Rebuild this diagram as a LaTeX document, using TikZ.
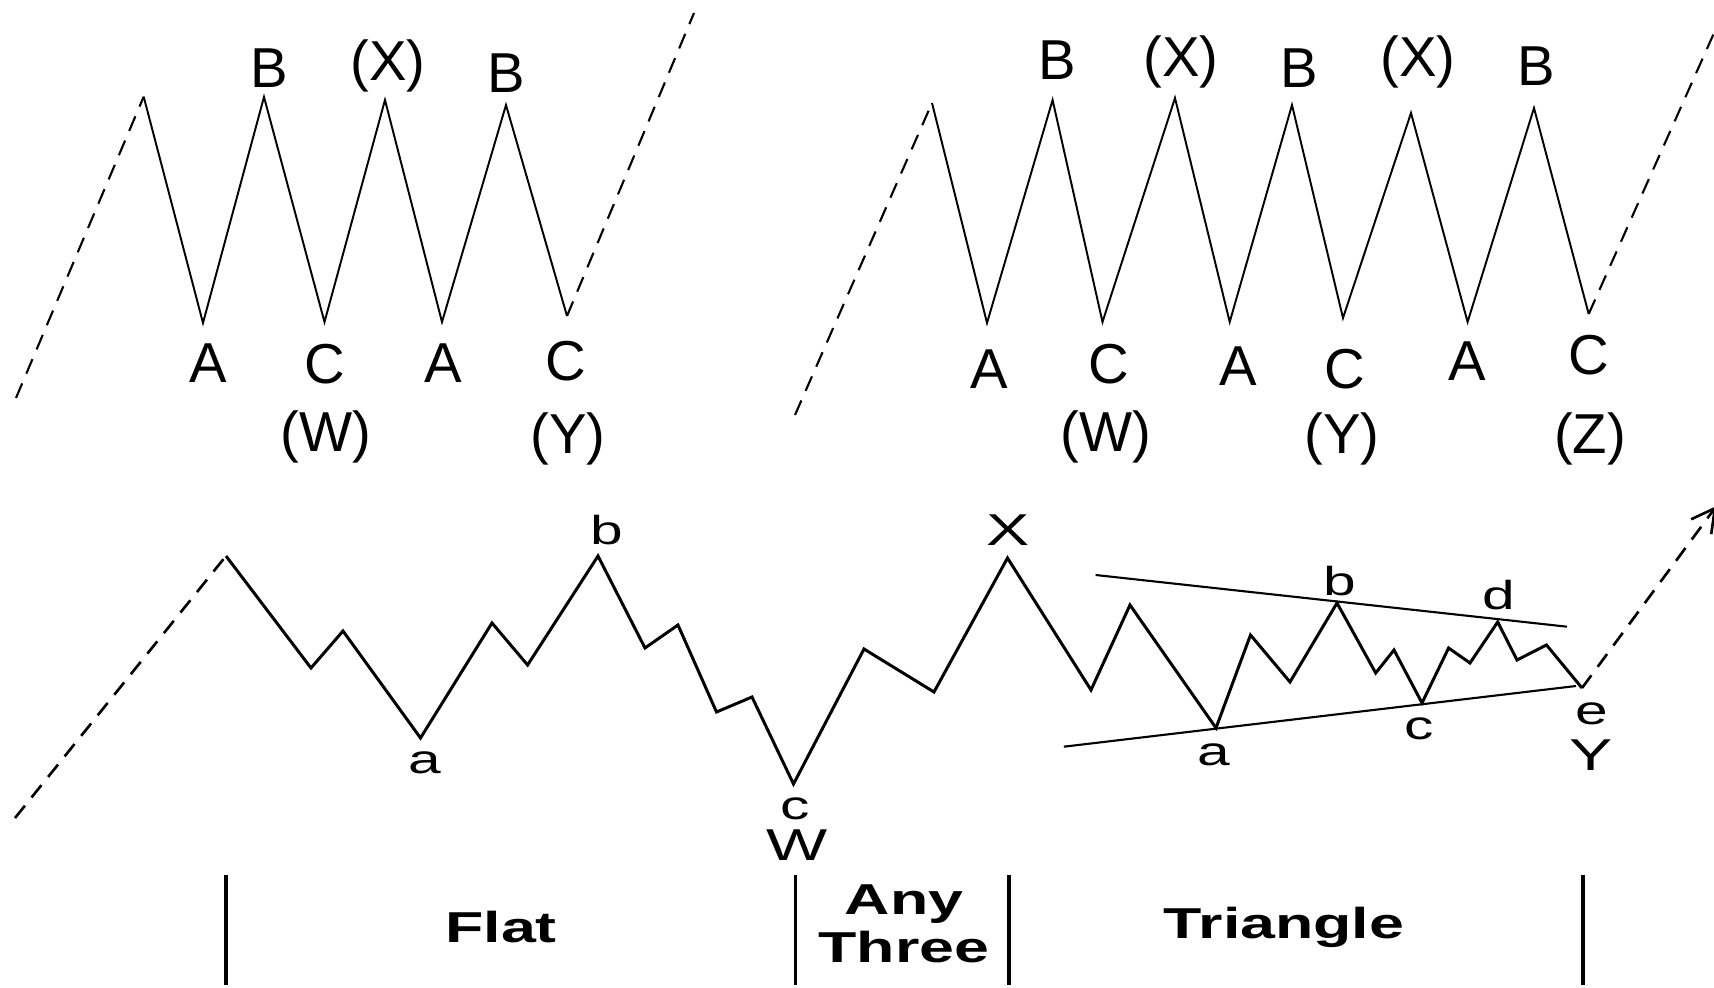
\documentclass[tikz,border=0pt]{standalone}
\usepackage{fontspec}
\setmainfont{Liberation Sans}
\newfontfamily\widefont[FakeStretch=1.45]{Liberation Sans}
\usetikzlibrary{arrows.meta}

\begin{document}
\begin{tikzpicture}[
  x=0.01cm, y=-0.01cm,
  zigzag/.style={line width=0.55pt, line join=miter},
  wave/.style={line width=0.85pt, line join=miter},
  lead/.style={line width=0.6pt, dash pattern=on 4.5pt off 3pt},
  trend/.style={line width=0.6pt},
  bar/.style={line width=1pt},
  biglab/.style={font=\fontsize{16}{16}\selectfont, inner sep=0pt},
  smalllab/.style={font=\widefont\fontsize{11.5}{12}\selectfont, inner sep=0pt},
  mainlab/.style={smalllab, font=\widefont\fontsize{12.7}{13}\selectfont},
  phase/.style={font=\widefont\bfseries\fontsize{12.3}{13.5}\selectfont, inner sep=0pt, align=center}
]
\clip (0,0) rectangle (1714,988);

% double three (top left)
\coordinate (dS) at (143.7,96.7);
\coordinate (dA1) at (203,323);
\coordinate (dB1) at (264,97);
\coordinate (dW) at (324.5,322);
\coordinate (dX) at (385,100);
\coordinate (dA2) at (442,322);
\coordinate (dB2) at (506,105);
\coordinate (dY) at (567,316);
\coordinate (dIn) at (16,398);
\coordinate (dOut) at (694,13);

\draw[lead] (dIn) -- (dS);
\draw[zigzag] (dS) -- (dA1) -- (dB1) -- (dW) -- (dX) -- (dA2) -- (dB2) -- (dY);
\draw[lead] (dY) -- (dOut);

\node[biglab] (dB1l) at (269,68) {B};
\node[biglab] (dXl) at (388,66) {(X)};
\node[biglab] (dB2l) at (506,73) {B};
\node[biglab] (dA1l) at (208,363) {A};
\node[biglab] (dWl) at (325,364) {C};
\node[biglab] (dA2l) at (443,363) {A};
\node[biglab] (dYl) at (566,361) {C};
\node[biglab] (dWw) at (326,437) {(W)};
\node[biglab] (dYy) at (568,439) {(Y)};

% triple three (top right)
\coordinate (tS) at (932,103);
\coordinate (tA1) at (987,323);
\coordinate (tB1) at (1052.6,100);
\coordinate (tW) at (1102.5,322);
\coordinate (tX1) at (1175,98);
\coordinate (tA2) at (1229.7,322);
\coordinate (tB2) at (1292,105);
\coordinate (tY) at (1343,318);
\coordinate (tX2) at (1411,113);
\coordinate (tA3) at (1467.6,322);
\coordinate (tB3) at (1534,108);
\coordinate (tZ) at (1588.7,314);
\coordinate (tIn) at (795,415);
\coordinate (tOut) at (1714,33);

\draw[lead] (tIn) -- (tS);
\draw[zigzag] (tS) -- (tA1) -- (tB1) -- (tW) -- (tX1) -- (tA2) -- (tB2)
  -- (tY) -- (tX2) -- (tA3) -- (tB3) -- (tZ);
\draw[lead] (tZ) -- (tOut);

\node[biglab] (tB1l) at (1057,60) {B};
\node[biglab] (tX1l) at (1181,62) {(X)};
\node[biglab] (tB2l) at (1299,68) {B};
\node[biglab] (tX2l) at (1418,62) {(X)};
\node[biglab] (tB3l) at (1536,66) {B};
\node[biglab] (tA1l) at (989,369) {A};
\node[biglab] (tWl) at (1109,364) {C};
\node[biglab] (tA2l) at (1238,366) {A};
\node[biglab] (tYl) at (1344.5,369) {C};
\node[biglab] (tA3l) at (1467,361) {A};
\node[biglab] (tZl) at (1589,355) {C};
\node[biglab] (tWw) at (1106,437) {(W)};
\node[biglab] (tYy) at (1342,439) {(Y)};
\node[biglab] (tZz) at (1590,439) {(Z)};

% flat - any three - triangle (bottom)
\coordinate (fIn) at (15,818);
\coordinate (fS) at (226,556);
\coordinate (f1) at (311,668);
\coordinate (f2) at (343,631);
\coordinate (fa) at (420.5,738);
\coordinate (f3) at (492,623);
\coordinate (f4) at (527.6,665);
\coordinate (fb) at (598,556);
\coordinate (f5) at (645,648);
\coordinate (f6) at (678,625);
\coordinate (f7) at (716.5,712);
\coordinate (f8) at (752,697);
\coordinate (fc) at (793.5,784);
\coordinate (n1) at (864,649);
\coordinate (n2) at (934,692);
\coordinate (nX) at (1007.5,558);
\coordinate (g1) at (1091,690);
\coordinate (g2) at (1130,605);
\coordinate (ga) at (1216,728);
\coordinate (g3) at (1250.5,635);
\coordinate (g4) at (1290,682);
\coordinate (gb) at (1337,603);
\coordinate (g5) at (1375.7,673);
\coordinate (g6) at (1394,650);
\coordinate (gc) at (1422,703);
\coordinate (g7) at (1448.6,648);
\coordinate (g8) at (1470,663);
\coordinate (gd) at (1497.7,622);
\coordinate (g9) at (1517,660);
\coordinate (g10) at (1546.5,645);
\coordinate (ge) at (1582,688);
\coordinate (gOut) at (1716.5,506);

\draw[lead, line width=0.75pt] (fIn) -- (fS);
\draw[wave] (fS) -- (f1) -- (f2) -- (fa) -- (f3) -- (f4) -- (fb) -- (f5) -- (f6)
  -- (f7) -- (f8) -- (fc) -- (n1) -- (n2) -- (nX) -- (g1) -- (g2) -- (ga)
  -- (g3) -- (g4) -- (gb) -- (g5) -- (g6) -- (gc) -- (g7) -- (g8) -- (gd)
  -- (g9) -- (g10) -- (ge);
\draw[lead, line width=0.75pt, -{Straight Barb[length=2.3mm, width=2.5mm]}] (ge) -- (gOut);

% triangle boundaries
\coordinate (upL) at (1095.6,575);
\coordinate (upR) at (1567,626.7);
\coordinate (loL) at (1063.8,746.7);
\coordinate (loR) at (1576,686);
\draw[trend] (upL) -- (upR);
\draw[trend] (loL) -- (loR);

\node[smalllab] (fal) at (425,763) {a};
\node[smalllab] (fbl) at (607,530) {b};
\node[smalllab] (fcl) at (795,809) {c};
\node[mainlab] (fWl) at (797,845) {W};
\node[mainlab] (nXl) at (1008,530) {X};
\node[smalllab] (gal) at (1214,755) {a};
\node[smalllab] (gbl) at (1340,581) {b};
\node[smalllab] (gcl) at (1419,729) {c};
\node[smalllab] (gdl) at (1499,595) {d};
\node[smalllab] (gel) at (1591.5,714) {e};
\node[mainlab] (gYl) at (1591.5,755) {Y};

% phase markers
\foreach \xb [count=\i] in {226,795.5,1009,1583}
  \draw[bar] (\xb,875) coordinate (m\i) -- (\xb,985);
\node[phase] (flat) at (501,927) {Flat};
\node[phase] (any) at (904,924) {Any\\Three};
\node[phase] (tri) at (1284,927) {Triangle};
\end{tikzpicture}
\end{document}
